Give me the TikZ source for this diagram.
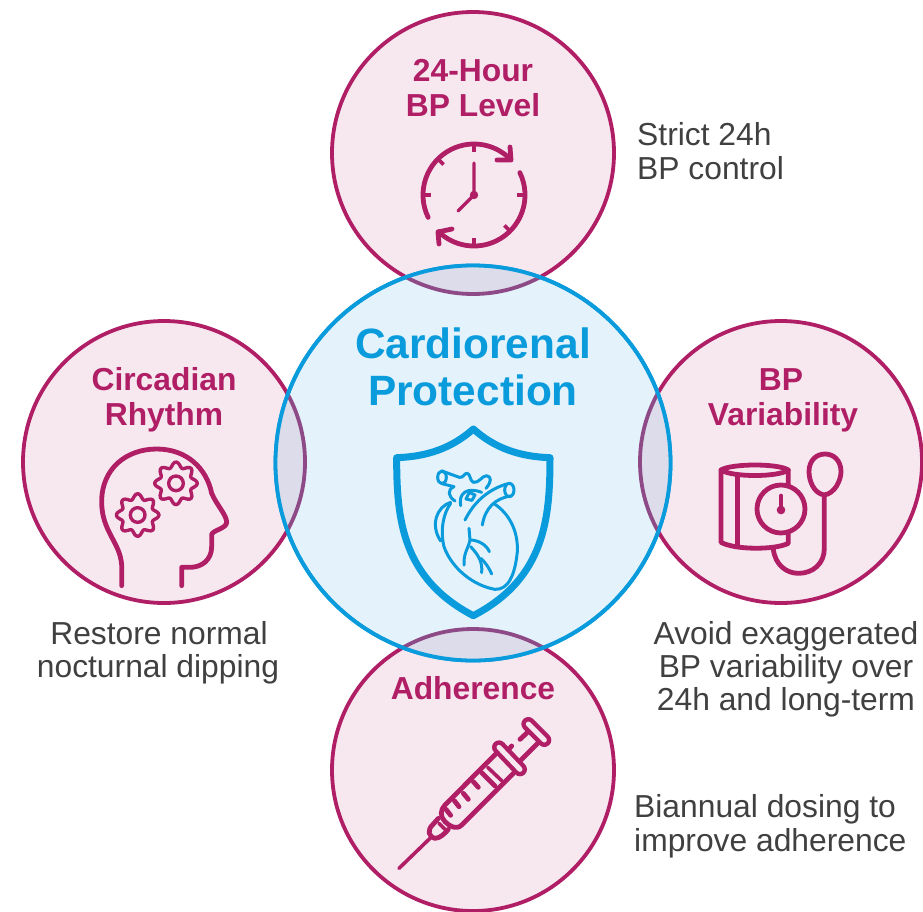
\documentclass[tikz,border=0pt]{standalone}
\usepackage{fontspec}
\setmainfont{Liberation Sans}
\definecolor{mag}{HTML}{B01F66}
\definecolor{pinkbg}{HTML}{F7E8F0}
\definecolor{bluec}{HTML}{0A9BDC}
\definecolor{bluebg}{HTML}{E4F3FB}
\definecolor{lens}{HTML}{DCDCEB}
\definecolor{lensline}{HTML}{8E4A86}
\definecolor{txt}{HTML}{404040}
\tikzset{
  sat/.style={circle,draw=mag,fill=pinkbg,line width=3.8pt,minimum size=282pt,inner sep=0pt},
  hub/.style={circle,draw=bluec,fill=bluebg,line width=3.8pt,minimum size=395pt,inner sep=0pt},
  head/.style={anchor=base,text=mag,font=\fontsize{31.8}{34}\selectfont\bfseries,inner sep=0pt},
  title/.style={anchor=base,text=bluec,font=\fontsize{42.4}{46}\selectfont\bfseries,inner sep=0pt},
  body/.style={anchor=base,text=txt,font=\fontsize{31.8}{34}\selectfont,inner sep=0pt},
  bodyl/.style={body,anchor=base west},
  icon/.style={draw=mag,line width=4.8pt,line cap=round,line join=round},
  hearticon/.style={draw=bluec,line width=3pt,line cap=round,line join=round},
}
\newcommand{\gearshape}[2]{%
  \draw[icon,line width=3.4pt] plot[smooth cycle,samples=73,domain=0:355] ({#1+(56+8*cos(8*\x))*cos(\x)},{#2+(56+8*cos(8*\x))*sin(\x)});
  \draw[icon,line width=3.4pt] (#1,#2) circle (22);
}
\begin{document}
\begin{tikzpicture}[x=1pt,y=-1pt]
\useasboundingbox (0,0) rectangle (923,911);
% satellites
\node[sat] (top) at (473,153) {};
\node[sat] (left) at (164,462) {};
\node[sat] (right) at (781,462) {};
\node[sat] (bottom) at (473,770) {};
% centre
\node[hub] (centre) at (473,463) {};
% lenses
\begin{scope}
  \clip (473,463) circle (197.5);
  \fill[lens] (473,153) circle (141);
  \fill[lens] (164,462) circle (141);
  \fill[lens] (781,462) circle (141);
  \fill[lens] (473,770) circle (141);
  \draw[lensline,line width=3.8pt] (473,153) circle (141);
  \draw[lensline,line width=3.8pt] (164,462) circle (141);
  \draw[lensline,line width=3.8pt] (781,462) circle (141);
  \draw[lensline,line width=3.8pt] (473,770) circle (141);
\end{scope}
\draw[bluec,line width=3.8pt] (473,463) circle (197.5);
% text
\node[head] (h1a) at (473,81) {24-Hour};
\node[head] (h1b) at (473,116) {BP Level};
\node[head] (h2a) at (164,390) {Circadian};
\node[head] (h2b) at (164,425) {Rhythm};
\node[head] (h3a) at (781,390) {BP};
\node[head] (h3b) at (783,425) {Variability};
\node[head] (h4) at (473,699) {Adherence};
\node[title] (t1) at (473,358) {Cardiorenal};
\node[title] (t2) at (473,405) {Protection};
\node[bodyl] (b1a) at (637,145) {Strict 24h};
\node[bodyl] (b1b) at (637,179) {BP control};
\node[body] (b2a) at (159,644) {Restore normal};
\node[body] (b2b) at (158,677) {nocturnal dipping};
\node[body] (b3a) at (786,644) {Avoid exaggerated};
\node[body] (b3b) at (786,677) {BP variability over};
\node[body] (b3c) at (786,710) {24h and long-term};
\node[bodyl] (b4a) at (634,817) {Biannual dosing to};
\node[bodyl] (b4b) at (634,851) {improve adherence};
% clock
\begin{scope}[shift={(474,195)}]
  \draw[icon] (-206:51) arc[start angle=-206,end angle=-44,radius=51];
  \draw[icon] (-26:51) arc[start angle=-26,end angle=134,radius=51];
  \draw[icon] (36,-48) -- (37,-35) -- (23,-35);
  \draw[icon] (-22,34) -- (-36,37) -- (-35,49);
  \foreach \a in {0,45,90,180,225,270}
    \draw[draw=mag,line width=3.8pt] (\a:51) -- (\a:43);
  \draw[icon,line width=3.4pt] (0,-32) -- (0,0) -- (-16,16);
  \fill[mag] (0,0) circle (4.2);
\end{scope}
% shield and heart
\begin{scope}[shift={(380,415)},x=0.33333pt,y=-0.33333pt]
  \draw[draw=bluec,line width=7pt,line join=round]
    (280,42) .. controls (215,100) and (140,125) .. (50,128)
    .. controls (50,310) and (65,490) .. (280,602)
    .. controls (495,490) and (510,310) .. (510,128)
    .. controls (420,125) and (345,100) .. (280,42) -- cycle;
  % body
  \draw[hearticon] (212,265) .. controls (190,295) and (180,345) .. (192,395)
    .. controls (215,460) and (280,512) .. (345,523)
    .. controls (385,525) and (405,480) .. (412,410)
    .. controls (415,345) and (385,295) .. (345,268);
  \draw[hearticon] (212,262) .. controls (170,275) and (150,330) .. (182,378);
  % aorta
  \draw[hearticon] (255,315) .. controls (280,265) and (320,225) .. (380,207);
  \draw[hearticon] (307,330) .. controls (315,280) and (345,250) .. (392,243);
  \draw[hearticon] (388,225) ellipse (14 and 20);
  % upper vessels
  \draw[hearticon] (186,187) ellipse (13 and 19);
  \draw[hearticon] (186,168) -- (238,187) .. controls (250,190) and (255,172) .. (262,175)
     .. controls (272,178) and (268,195) .. (280,202)
     .. controls (298,205) and (305,182) .. (320,182)
     .. controls (335,185) and (335,200) .. (318,220);
  \draw[hearticon] (186,206) -- (222,215) .. controls (200,225) and (205,245) .. (225,258);
  \draw[hearticon] (242,272) .. controls (235,235) and (260,215) .. (305,232);
  \draw[hearticon] (258,252) -- (268,232) -- (285,240) -- (276,256) -- cycle;
  % coronary
  \draw[hearticon] (267,340) -- (270,375) .. controls (265,400) and (250,415) .. (252,450);
  \draw[hearticon] (270,375) .. controls (295,375) and (320,390) .. (328,410);
  \draw[hearticon] (272,395) .. controls (295,420) and (308,440) .. (305,473);
  \draw[hearticon] (303,430) .. controls (318,445) and (328,460) .. (335,477);
\end{scope}
% head
\begin{scope}[shift={(90,435)},x=0.33333pt,y=-0.33333pt]
  \draw[icon] (95,452) -- (95,390) .. controls (90,320) and (35,290) .. (35,200)
    .. controls (35,100) and (110,42) .. (200,42)
    .. controls (290,42) and (350,100) .. (365,175)
    .. controls (380,210) and (410,240) .. (410,262)
    .. controls (410,280) and (370,285) .. (365,298)
    -- (365,335) .. controls (365,375) and (335,397) .. (300,397) -- (275,397) -- (275,452);
  \gearshape{258}{145}
  \gearshape{143}{240}
\end{scope}
% sphygmomanometer
\begin{scope}[shift={(705,445)},x=0.33333pt,y=-0.33333pt]
  \draw[icon] (48,75) .. controls (80,55) and (220,55) .. (250,75) .. controls (220,97) and (80,97) .. (48,75) -- cycle;
  \draw[icon] (48,75) -- (48,292) .. controls (90,315) and (210,315) .. (250,295) -- (250,75);
  \draw[icon] (98,90) -- (98,305);
  \draw[icon,fill=pinkbg] (228,192) circle (72);
  \fill[mag] (228,195) circle (13);
  \draw[mag,line width=4pt,line cap=round] (228,195) -- (228,152);
  \draw[icon] (205,312) .. controls (210,360) and (245,385) .. (280,385)
     .. controls (325,385) and (358,355) .. (358,310) -- (358,150);
  \draw[icon] (358,150) .. controls (325,145) and (312,105) .. (312,80)
     .. controls (312,45) and (335,27) .. (360,27)
     .. controls (385,27) and (408,45) .. (408,80)
     .. controls (408,105) and (390,145) .. (358,150) -- cycle;
\end{scope}
% syringe
\begin{scope}[shift={(385,710)},x=0.33333pt,y=-0.33333pt]
  \draw[icon,line width=3.6pt] (42,475) -- (135,385);
  \draw[icon] (405,88) -- (435,60);
  \draw[icon] (408,150) -- (460,98);
  \draw[icon] (368,122) -- (380,108);
  \draw[mag,line width=14pt,line cap=round] (342,112) -- (405,178);
  \draw[pinkbg,line width=5pt,line cap=round] (342,112) -- (405,178);
  \draw[mag,line width=14pt,line cap=round] (430,42) -- (478,90);
  \draw[pinkbg,line width=5pt,line cap=round] (430,42) -- (478,90);
  \draw[icon] (332,132) -- (180,285) .. controls (165,300) and (165,320) .. (180,335)
     .. controls (195,350) and (215,360) .. (230,345) -- (385,190);
  \draw[icon] (290,188) -- (330,228);
  \draw[icon,line width=3.6pt] (308,172) -- (350,212);
  \draw[icon] (265,215) -- (280,232);
  \draw[icon] (235,250) -- (250,268);
  \draw[icon] (208,272) -- (222,290);
  \draw[icon] (183,298) -- (197,316);
  \draw[icon] (160,325) -- (145,342) .. controls (125,360) and (130,380) .. (150,385)
     .. controls (165,385) and (180,370) .. (190,358);
  \draw[icon,line width=3.6pt] (162,340) -- (180,358);
\end{scope}
\end{tikzpicture}
\end{document}
